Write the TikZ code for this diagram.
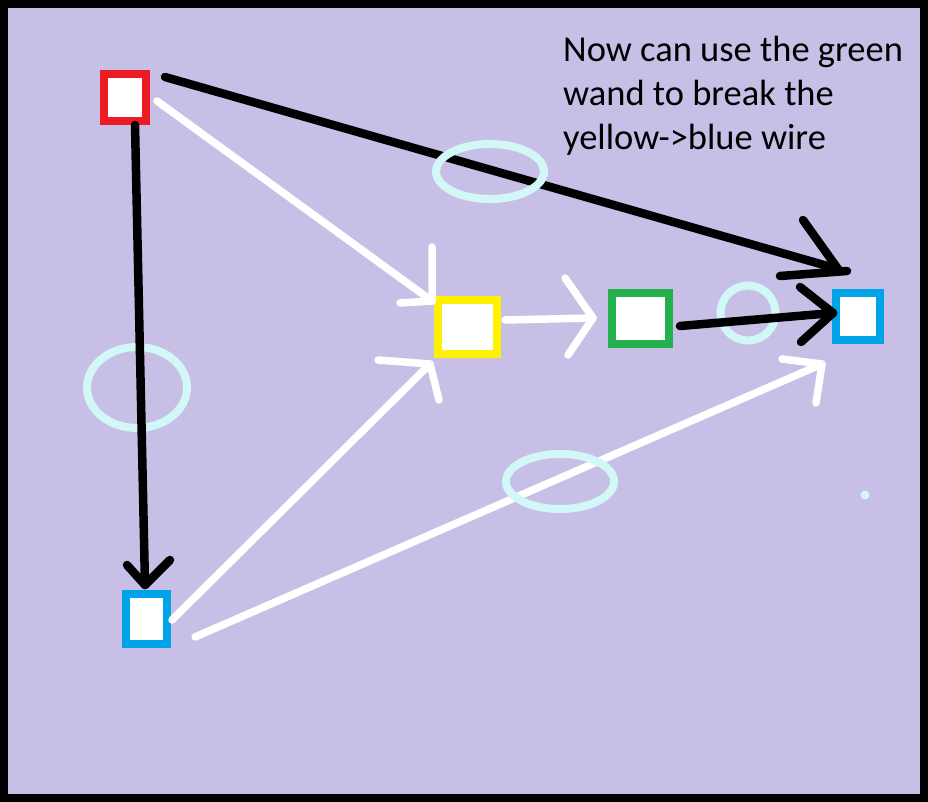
\documentclass[tikz,border=0pt]{standalone}
\usepackage{fontspec}
\setmainfont{Carlito}
\usetikzlibrary{calc}
\definecolor{lav}{RGB}{200,191,231}
\definecolor{ringc}{RGB}{210,247,247}
\definecolor{pred}{RGB}{237,28,36}
\definecolor{pyel}{RGB}{255,242,0}
\definecolor{pgrn}{RGB}{34,177,76}
\definecolor{pblu}{RGB}{0,162,232}
\begin{document}
\begin{tikzpicture}[x=1pt,y=-1pt,
  boxnode/.style={draw=#1, line width=8pt, fill=white, inner sep=0pt, outer sep=4pt},
  blk/.style={draw=black, line width=8.5pt, line cap=round, line join=round},
  wht/.style={draw=white, line width=7.5pt, line cap=round, line join=round},
  ring/.style={draw=ringc, line width=8pt},
  txt/.style={anchor=base west, inner sep=0pt, font=\fontsize{36.5}{44}\selectfont}]
% frame
\fill[black] (0,0) rectangle (928,802);
\fill[lav] (8,8) rectangle (920,794);
\useasboundingbox (0,0) rectangle (928,802);
% boxes
\node[boxnode=pred, minimum width=42pt, minimum height=47pt] (red) at (125,97.5) {};
\node[boxnode=pyel, minimum width=59pt, minimum height=54pt] (yl) at (467.5,327) {};
\node[boxnode=pgrn, minimum width=57pt, minimum height=51pt] (gr) at (640.5,318.5) {};
\node[boxnode=pblu, minimum width=44pt, minimum height=47pt] (rb) at (858,316.5) {};
\node[boxnode=pblu, minimum width=41pt, minimum height=50pt] (bb) at (146.5,619) {};
% tips
\coordinate (t1) at ([shift={(6,-20)}]rb.north west);
\coordinate (t2) at ([shift={(-1.5,-5)}]bb.north);
\coordinate (t3) at ([shift={(-2,5)}]yl.north west);
\coordinate (t4) at ([shift={(-4,6)}]yl.south west);
\coordinate (t5) at ([shift={(-15,-0.5)}]gr.west);
\coordinate (t6) at ([shift={(1,-3.5)}]rb.west);
\coordinate (t7) at ([shift={(-10,20)}]rb.south west);
% rings under black lines
\draw[ring] (137,387.5) ellipse [x radius=50, y radius=40.5];
\draw[ring] (748,313) circle [radius=27.5];
% white connectors
\draw[wht] ([shift={(7,3.5)}]red.east) -- (t3);
\draw[wht] ($(t3)+(0,-54)$) -- (t3) -- ($(t3)+(-32,2)$);
\draw[wht] ([shift={(1,1)}]bb.east) -- (t4);
\draw[wht] ($(t4)+(-52,-4)$) -- (t4) -- ($(t4)+(9,36)$);
\draw[wht] ([shift={(4,-7)}]yl.east) -- (t5);
\draw[wht] ($(t5)+(-28,-40)$) -- (t5) -- ($(t5)+(-25,37)$);
\draw[wht] ([shift={(24,18)}]bb.east) -- (t7);
\draw[wht] ($(t7)+(-40,-5)$) -- (t7) -- ($(t7)+(-6,39)$);
% black connectors
\draw[blk] ([shift={(15,7)}]red.north east) -- (t1);
\draw[blk] ($(t1)+(-35,-49)$) -- (t1);
\draw[blk] ($(t1)+(-58,7)$) -- ($(t1)+(9,2)$);
\draw[blk] ([shift={(10,0)}]red.south) -- (t2);
\draw[blk] ($(t2)+(-18,-20)$) -- (t2) -- ($(t2)+(25,-25)$);
\draw[blk] ([shift={(7,7.5)}]gr.east) -- (t6);
\draw[blk] ($(t6)+(-33,-26)$) -- (t6) -- ($(t6)+(-32,29)$);
% rings over lines
\draw[ring] (490,171.5) ellipse [x radius=54, y radius=27.5];
\draw[ring] (560,481.5) ellipse [x radius=54, y radius=27.5];
\fill[ringc] (865,495) circle [radius=4.5];
% text
\node[txt] (l1) at (563,62) {Now can use the green};
\node[txt] (l2) at (563,106) {wand to break the};
\node[txt] (l3) at (563,150) {yellow->blue wire};
\end{tikzpicture}
\end{document}
